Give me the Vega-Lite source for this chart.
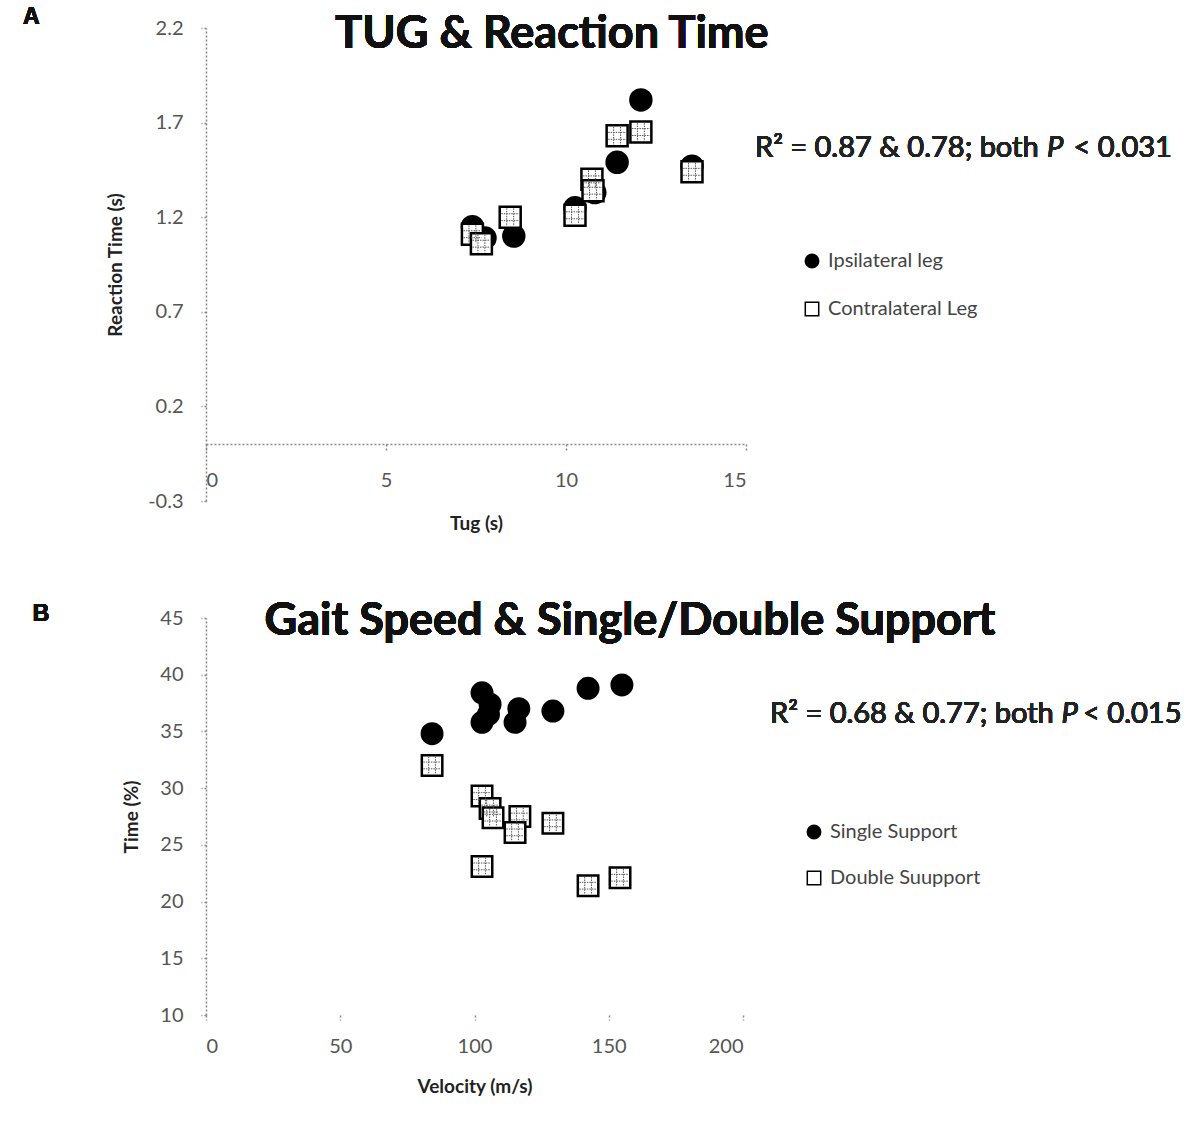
{
  "$schema": "https://vega.github.io/schema/vega-lite/v6.json",
  "background": "white",
  "padding": {"left": 23, "top": 5, "right": 5, "bottom": 5},
  "spacing": 117,
  "bounds": "flush",
  "config": {
    "font": "Lato",
    "view": {"stroke": null},
    "axis": {
      "grid": false,
      "domainColor": "#888",
      "domainDash": [2, 2],
      "domainWidth": 1.5,
      "tickColor": "#888",
      "tickDash": [2, 2],
      "tickSize": 6,
      "tickWidth": 1.5,
      "labelFont": "Lato",
      "labelFontSize": 20,
      "labelColor": "#555",
      "titleFont": "Lato",
      "titleFontSize": 19,
      "titleFontWeight": "bold",
      "titleColor": "#222"
    },
    "legend": {
      "orient": "none",
      "title": null,
      "labelFont": "Lato",
      "labelFontSize": 20,
      "labelColor": "#444",
      "symbolSize": 180,
      "labelOffset": 6,
      "padding": 0
    }
  },
  "resolve": {
    "scale": {"shape": "independent", "fill": "independent"},
    "legend": {"shape": "independent", "fill": "independent"}
  },
  "vconcat": [
    {
      "width": 540,
      "height": 473,
      "data": {"values": [
        {"tug": 7.4, "rt": 1.15, "g": "Ipsilateral leg"},
        {"tug": 7.75, "rt": 1.09, "g": "Ipsilateral leg"},
        {"tug": 8.55, "rt": 1.1, "g": "Ipsilateral leg"},
        {"tug": 10.25, "rt": 1.25, "g": "Ipsilateral leg"},
        {"tug": 10.8, "rt": 1.33, "g": "Ipsilateral leg"},
        {"tug": 11.42, "rt": 1.49, "g": "Ipsilateral leg"},
        {"tug": 12.08, "rt": 1.82, "g": "Ipsilateral leg"},
        {"tug": 13.5, "rt": 1.47, "g": "Ipsilateral leg"},
        {"tug": 7.4, "rt": 1.11, "g": "Contralateral Leg"},
        {"tug": 7.65, "rt": 1.06, "g": "Contralateral Leg"},
        {"tug": 8.45, "rt": 1.2, "g": "Contralateral Leg"},
        {"tug": 10.25, "rt": 1.21, "g": "Contralateral Leg"},
        {"tug": 10.72, "rt": 1.4, "g": "Contralateral Leg"},
        {"tug": 10.75, "rt": 1.34, "g": "Contralateral Leg"},
        {"tug": 11.42, "rt": 1.63, "g": "Contralateral Leg"},
        {"tug": 12.08, "rt": 1.65, "g": "Contralateral Leg"},
        {"tug": 13.5, "rt": 1.44, "g": "Contralateral Leg"}
      ]},
      "layer": [
        {
          "mark": {"type": "point", "filled": true, "size": 440, "stroke": "black", "strokeWidth": 2.5, "opacity": 1},
          "encoding": {
            "x": {"field": "tug", "type": "quantitative", "scale": {"domain": [0, 15], "nice": false, "zero": false},
                  "axis": {"values": [0, 5, 10, 15], "offset": -57, "title": "Tug (s)", "labelPadding": 20, "titlePadding": 24}},
            "y": {"field": "rt", "type": "quantitative", "scale": {"domain": [-0.3, 2.2], "nice": false, "zero": false},
                  "axis": {"values": [-0.3, 0.2, 0.7, 1.2, 1.7, 2.2], "format": ".1f", "labelExpr": "replace(datum.label, '−', '-')", "title": "Reaction Time (s)", "tickSize": 5, "labelPadding": 18, "titlePadding": 22}},
            "shape": {"field": "g", "type": "nominal", "scale": {"domain": ["Ipsilateral leg", "Contralateral Leg"], "range": ["circle", "square"]},
                      "legend": {"legendX": 596, "legendY": 223, "rowPadding": 28,
                                 "encode": {"symbols": {"update": {"stroke": {"value": "black"}, "strokeWidth": {"value": 2}}}}}},
            "fill": {"field": "g", "type": "nominal", "scale": {"domain": ["Ipsilateral leg", "Contralateral Leg"], "range": ["black", "white"]},
                     "legend": {"legendX": 596, "legendY": 223, "rowPadding": 28,
                                "encode": {"symbols": {"update": {"stroke": {"value": "black"}, "strokeWidth": {"value": 2}}}}}}
          }
        },
        {
          "transform": [{"filter": "datum.g == 'Contralateral Leg'"}],
          "mark": {"type": "point", "filled": false, "size": 440, "stroke": "#555", "strokeWidth": 1, "strokeDash": [1.5, 1], "opacity": 1,
                   "shape": "M-0.33,-0.85V0.85M0.33,-0.85V0.85M-0.85,-0.33H0.85M-0.85,0.33H0.85"},
          "encoding": {
            "x": {"field": "tug", "type": "quantitative"},
            "y": {"field": "rt", "type": "quantitative"}
          }
        },
        {
          "mark": {"type": "text", "align": "center", "baseline": "middle", "fontSize": 45, "fontWeight": "bold", "color": "#111"},
          "encoding": {"x": {"datum": 9.61}, "y": {"datum": 2.169}, "text": {"value": "TUG & Reaction Time"}}
        },
        {
          "mark": {"type": "text", "align": "left", "baseline": "middle", "fontSize": 29, "color": "#222"},
          "encoding": {"x": {"datum": 15.25}, "y": {"datum": 1.566}, "text": {"value": "R² = 0.87 & 0.78; both"}}
        },
        {
          "mark": {"type": "text", "align": "left", "baseline": "middle", "fontSize": 29, "fontStyle": "italic", "color": "#222"},
          "encoding": {"x": {"datum": 23.36}, "y": {"datum": 1.566}, "text": {"value": "P"}}
        },
        {
          "mark": {"type": "text", "align": "right", "baseline": "middle", "fontSize": 29, "color": "#222"},
          "encoding": {"x": {"datum": 26.83}, "y": {"datum": 1.566}, "text": {"value": "< 0.031"}}
        },
        {
          "mark": {"type": "text", "align": "left", "baseline": "middle", "font": "Liberation Sans", "fontSize": 23, "fontWeight": "bold", "color": "#111"},
          "encoding": {"x": {"datum": -5.08}, "y": {"datum": 2.26}, "text": {"value": "A"}}
        }
      ]
    },
    {
      "width": 537,
      "height": 397,
      "data": {"values": [
        {"v": 84.2, "t": 34.8, "s": "Single Support"},
        {"v": 102.8, "t": 38.4, "s": "Single Support"},
        {"v": 105.8, "t": 37.4, "s": "Single Support"},
        {"v": 102.8, "t": 35.8, "s": "Single Support"},
        {"v": 105.2, "t": 36.5, "s": "Single Support"},
        {"v": 116.5, "t": 37.0, "s": "Single Support"},
        {"v": 115.1, "t": 35.8, "s": "Single Support"},
        {"v": 129.2, "t": 36.8, "s": "Single Support"},
        {"v": 142.3, "t": 38.8, "s": "Single Support"},
        {"v": 154.9, "t": 39.1, "s": "Single Support"},
        {"v": 84.2, "t": 32.0, "s": "Double Suupport"},
        {"v": 102.8, "t": 29.3, "s": "Double Suupport"},
        {"v": 105.8, "t": 28.2, "s": "Double Suupport"},
        {"v": 106.9, "t": 27.4, "s": "Double Suupport"},
        {"v": 116.9, "t": 27.5, "s": "Double Suupport"},
        {"v": 115.1, "t": 26.1, "s": "Double Suupport"},
        {"v": 129.2, "t": 26.9, "s": "Double Suupport"},
        {"v": 102.8, "t": 23.1, "s": "Double Suupport"},
        {"v": 142.3, "t": 21.4, "s": "Double Suupport"},
        {"v": 154.2, "t": 22.1, "s": "Double Suupport"}
      ]},
      "layer": [
        {
          "mark": {"type": "point", "filled": true, "size": 420, "stroke": "black", "strokeWidth": 2.5, "opacity": 1},
          "encoding": {
            "x": {"field": "v", "type": "quantitative", "scale": {"domain": [0, 200], "nice": false, "zero": false},
                  "axis": {"values": [0, 50, 100, 150, 200], "domain": false, "tickSize": 5, "title": "Velocity (m/s)", "labelPadding": 16, "titlePadding": 21}},
            "y": {"field": "t", "type": "quantitative", "scale": {"domain": [10, 45], "nice": false, "zero": false},
                  "axis": {"values": [10, 15, 20, 25, 30, 35, 40, 45], "title": "Time (%)", "tickSize": 5, "labelPadding": 18, "titlePadding": 18}},
            "shape": {"field": "s", "type": "nominal", "scale": {"domain": ["Single Support", "Double Suupport"], "range": ["circle", "square"]},
                      "legend": {"legendX": 598, "legendY": 204, "rowPadding": 26,
                                 "encode": {"symbols": {"update": {"stroke": {"value": "black"}, "strokeWidth": {"value": 2}}}}}},
            "fill": {"field": "s", "type": "nominal", "scale": {"domain": ["Single Support", "Double Suupport"], "range": ["black", "white"]},
                     "legend": {"legendX": 598, "legendY": 204, "rowPadding": 26,
                                "encode": {"symbols": {"update": {"stroke": {"value": "black"}, "strokeWidth": {"value": 2}}}}}}
          }
        },
        {
          "transform": [{"filter": "datum.s == 'Double Suupport'"}],
          "mark": {"type": "point", "filled": false, "size": 420, "stroke": "#555", "strokeWidth": 1, "strokeDash": [1.5, 1], "opacity": 1,
                   "shape": "M-0.33,-0.85V0.85M0.33,-0.85V0.85M-0.85,-0.33H0.85M-0.85,0.33H0.85"},
          "encoding": {
            "x": {"field": "v", "type": "quantitative"},
            "y": {"field": "t", "type": "quantitative"}
          }
        },
        {
          "mark": {"type": "text", "align": "center", "baseline": "middle", "fontSize": 45, "fontWeight": "bold", "color": "#111"},
          "encoding": {"x": {"datum": 157.9}, "y": {"datum": 44.74}, "text": {"value": "Gait Speed & Single/Double Support"}}
        },
        {
          "mark": {"type": "text", "align": "left", "baseline": "middle", "fontSize": 29, "color": "#222"},
          "encoding": {"x": {"datum": 210.1}, "y": {"datum": 36.54}, "text": {"value": "R² = 0.68 & 0.77; both"}}
        },
        {
          "mark": {"type": "text", "align": "left", "baseline": "middle", "fontSize": 29, "fontStyle": "italic", "color": "#222"},
          "encoding": {"x": {"datum": 318.6}, "y": {"datum": 36.54}, "text": {"value": "P"}}
        },
        {
          "mark": {"type": "text", "align": "right", "baseline": "middle", "fontSize": 29, "color": "#222"},
          "encoding": {"x": {"datum": 363.3}, "y": {"datum": 36.54}, "text": {"value": "< 0.015"}}
        },
        {
          "mark": {"type": "text", "align": "left", "baseline": "middle", "font": "Liberation Sans", "fontSize": 23, "fontWeight": "bold", "color": "#111"},
          "encoding": {"x": {"datum": -64.5}, "y": {"datum": 45.36}, "text": {"value": "B"}}
        }
      ]
    }
  ]
}
